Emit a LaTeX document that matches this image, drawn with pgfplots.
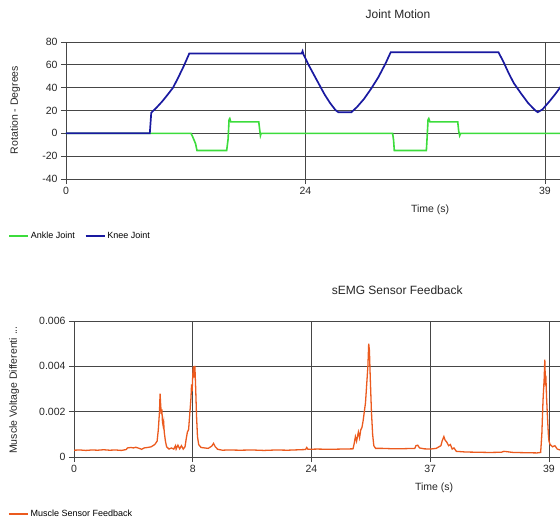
\documentclass[border=0pt]{standalone}
\usepackage{fontspec}
\setmainfont{Liberation Sans}
\usepackage{pgfplots}
\pgfplotsset{compat=1.18}
\definecolor{ankle}{RGB}{60,220,60}
\definecolor{knee}{RGB}{25,25,160}
\definecolor{emg}{RGB}{235,90,30}
\definecolor{gridc}{RGB}{70,70,70}

\pgfplotsset{
  chart/.style={
    scale only axis,
    axis lines=left,
    axis line style={-,gridc,line width=0.8pt},
    grid=major,
    major grid style={gridc,line width=0.8pt},
    tick align=outside,
    major tick length=5pt,
    tick style={gridc,line width=0.8pt},
    ticklabel style={font=\fontsize{10.5}{12}\selectfont,text=black!85},
    /pgf/number format/assume math mode=true,
    label style={font=\fontsize{10.5}{12}\selectfont,text=black!85},
    title style={font=\fontsize{12}{14}\selectfont,text=black!85},
    legend style={draw=none,fill=none,font=\fontsize{9}{10}\selectfont,
      anchor=west,inner sep=0pt,
      /tikz/every even column/.append style={column sep=8pt}},
    legend cell align=left,
    legend image code/.code={\draw[#1,line width=1.5pt] (0pt,0pt) -- (19pt,0pt);},
  }
}

\begin{document}
\begin{tikzpicture}
\useasboundingbox (0,0) rectangle (560pt,-519pt);

% Joint Motion
\begin{axis}[chart,
  at={(66pt,-179pt)}, anchor=south west,
  width=494pt, height=137pt,
  xmin=0, xmax=2.063, ymin=-40, ymax=80,
  ytick={-40,-20,0,20,40,60,80},
  xtick={0,1,2}, xticklabels={0,24,39},
  title={Joint Motion},
  title style={at={(axis description cs:0.672,1.161)},anchor=center},
  xlabel={Time (s)},
  xlabel style={at={(axis description cs:0.737,-0.226)},anchor=center},
  ylabel={Rotation - Degrees},
  ylabel style={at={(axis description cs:-0.103,0.504)},anchor=center},
  legend style={at={(axis description cs:-0.117,-0.416)}},
  legend columns=2,
]
\addplot[ankle, line width=1.6pt] coordinates {
  (0,0) (0.522,0) (0.529,-3) (0.541,-9) (0.547,-15) (0.671,-15) (0.677,-5)
  (0.681,12) (0.684,13) (0.688,10) (0.805,10) (0.809,3) (0.812,-2) (0.815,0)
  (1.364,0) (1.368,-6) (1.371,-15) (1.505,-15) (1.509,0) (1.512,12) (1.515,13)
  (1.520,10) (1.636,10) (1.640,2) (1.644,-2) (1.648,0) (2.1,0)
};
\addplot[knee, line width=1.7pt] coordinates {
  (0,0) (0.350,0) (0.356,18) (0.380,23) (0.402,28) (0.425,34) (0.447,40)
  (0.469,49) (0.492,59) (0.515,70) (0.984,70) (0.988,72) (0.992,69)
  (1.013,60) (1.036,51) (1.058,42.5) (1.080,34) (1.103,26.5) (1.125,20.5)
  (1.137,18.5) (1.192,18.5) (1.215,23) (1.244,30) (1.274,39) (1.304,49)
  (1.334,61) (1.356,71) (1.806,71) (1.826,63) (1.848,53) (1.870,44)
  (1.900,35) (1.930,26.5) (1.960,20) (1.970,18.5) (1.990,21) (2.019,28)
  (2.042,34) (2.063,40) (2.08,45)
};
\legend{Ankle Joint, Knee Joint}
\end{axis}

% sEMG
\begin{axis}[chart,
  at={(74pt,-457pt)}, anchor=south west,
  width=486pt, height=136pt,
  xmin=0, xmax=4.093, ymin=0, ymax=0.006,
  scaled y ticks=false,
  ytick={0,0.002,0.004,0.006}, yticklabels={0,0.002,0.004,0.006},
  xtick={0,1,2,3,4}, xticklabels={0,8,24,37,39},
  title={sEMG Sensor Feedback},
  title style={at={(axis description cs:0.665,1.184)},anchor=center},
  xlabel={Time (s)},
  xlabel style={at={(axis description cs:0.741,-0.228)},anchor=center},
  ylabel={Muscle Voltage Differenti ...},
  ylabel style={at={(axis description cs:-0.123,0.493)},anchor=center},
  legend style={at={(axis description cs:-0.136,-0.419)}},
]
\addplot[emg, line width=1.3pt] table[y expr=\thisrowno{1}*0.001] {
x v
0.00 0.30
0.05 0.31
0.10 0.29
0.15 0.31
0.20 0.30
0.25 0.32
0.30 0.30
0.35 0.31
0.40 0.29
0.44 0.33
0.45 0.40
0.48 0.42
0.50 0.40
0.52 0.43
0.55 0.38
0.57 0.34
0.59 0.40
0.62 0.42
0.65 0.45
0.68 0.55
0.70 0.70
0.71 1.20
0.72 2.00
0.725 2.80
0.730 2.30
0.735 1.90
0.740 2.10
0.745 1.55
0.75 1.40
0.755 1.55
0.76 1.10
0.77 0.70
0.78 0.45
0.80 0.35
0.82 0.40
0.84 0.35
0.855 0.50
0.86 0.35
0.875 0.52
0.89 0.36
0.905 0.50
0.92 0.35
0.935 0.45
0.945 0.80
0.955 1.10
0.965 1.20
0.975 1.90
0.985 2.60
0.99 3.20
0.995 2.90
1.000 3.60
1.005 4.00
1.012 3.50
1.018 4.02
1.025 3.00
1.032 1.80
1.04 0.90
1.05 0.55
1.07 0.42
1.10 0.40
1.13 0.38
1.16 0.48
1.175 0.60
1.19 0.45
1.21 0.34
1.25 0.30
1.30 0.31
1.40 0.30
1.50 0.31
1.60 0.29
1.70 0.31
1.80 0.30
1.90 0.32
1.95 0.33
1.96 0.42
1.97 0.34
2.05 0.35
2.15 0.34
2.25 0.35
2.35 0.36
2.36 0.60
2.37 0.90
2.38 0.70
2.395 1.10
2.405 0.85
2.415 1.20
2.425 1.30
2.435 1.60
2.445 2.00
2.455 2.40
2.465 3.20
2.475 4.00
2.482 5.00
2.488 4.70
2.495 3.50
2.505 2.00
2.515 1.00
2.525 0.50
2.54 0.38
2.60 0.38
2.70 0.36
2.80 0.37
2.87 0.38
2.88 0.50
2.895 0.52
2.91 0.40
2.95 0.36
3.00 0.35
3.05 0.38
3.09 0.50
3.10 0.70
3.115 0.90
3.125 0.75
3.14 0.65
3.155 0.50
3.17 0.55
3.185 0.35
3.20 0.40
3.22 0.25
3.30 0.22
3.40 0.21
3.50 0.20
3.60 0.21
3.62 0.25
3.70 0.20
3.80 0.19
3.90 0.18
3.93 0.20
3.94 1.00
3.95 2.50
3.96 3.50
3.965 4.30
3.970 3.30
3.975 3.40
3.98 2.60
3.99 1.50
3.995 1.00
4.00 0.70
4.01 0.55
4.03 0.45
4.05 0.50
4.07 0.35
4.10 0.30
};
\legend{Muscle Sensor Feedback}
\end{axis}
\end{tikzpicture}
\end{document}
